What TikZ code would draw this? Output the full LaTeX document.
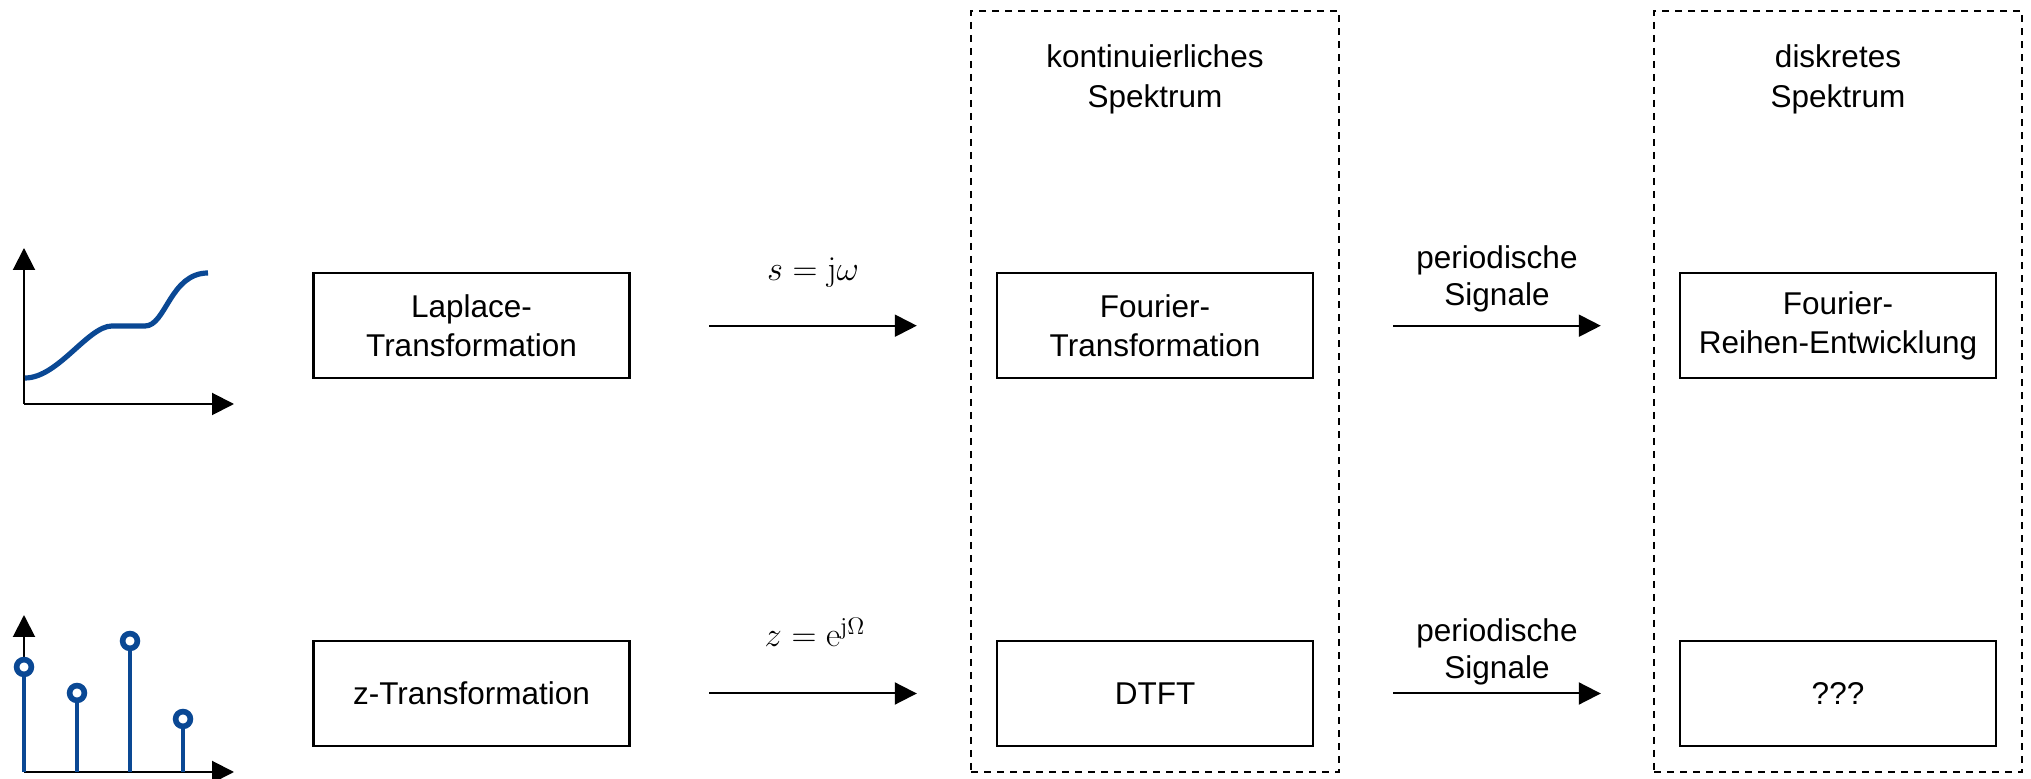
\documentclass[tikz,border=0pt]{standalone}
\usepackage[no-math]{fontspec}
\setmainfont{Liberation Sans}
\usetikzlibrary{arrows.meta}
\definecolor{sigblue}{RGB}{10,72,148}
\begin{document}
\begin{tikzpicture}[x=0.5pt,y=-0.5pt,
  block/.style={draw, line width=1.2pt, minimum width=158pt, minimum height=52.5pt,
    align=center, inner sep=0pt, font=\fontsize{15.75}{19.2}\selectfont},
  region/.style={draw, line width=1pt, dash pattern=on 3.5pt off 3pt,
    minimum width=184pt, minimum height=380.5pt, inner sep=0pt},
  head/.style={align=center, inner sep=0pt, font=\fontsize{15.75}{20}\selectfont},
  lbl/.style={align=center, inner sep=0pt, font=\fontsize{15.75}{18.2}\selectfont},
  mathlbl/.style={anchor=base, inner sep=0pt, font=\fontsize{17.7}{21}\selectfont},
  conn/.style={line width=1pt, -{Triangle[length=11pt,width=11pt]}},
  axis/.style={line width=1pt, -{Triangle[length=11pt,width=11pt]}},
  stem/.style={sigblue, line width=2.1pt},
  tip/.style={sigblue, line width=2.8pt, fill=white},
  curve/.style={sigblue, line width=2.6pt}
]
\useasboundingbox (0,0) rectangle (2031,779);

% dashed regions
\node[region] (contreg) at (1155,391.5) {};
\node[region] (diskreg) at (1838,391.5) {};
\node[head] (conthead) at (1155,79) {kontinuierliches\\Spektrum};
\node[head] (diskhead) at (1838,79) {diskretes\\Spektrum};

% blocks
\node[block] (laplace) at (471.5,325.7) {Laplace-\\Transformation};
\node[block] (fourier) at (1155,325.7) {Fourier-\\Transformation};
\node[block] (reihe) at (1838,325.7) {Fourier-\\Reihen-Entwicklung};
\node[block] (ztrafo) at (471.5,693.5) {z-Transformation};
\node[block] (dtft) at (1155,693.5) {DTFT};
\node[block] (unknown) at (1838,693.5) {???};

% connectors
\draw[conn] ([xshift=39.25pt]laplace.east) -- ([xshift=-39.5pt]fourier.west);
\draw[conn] ([xshift=39.5pt]fourier.east) -- ([xshift=-39pt]reihe.west);
\draw[conn] ([xshift=39.25pt]ztrafo.east) -- ([xshift=-39.5pt]dtft.west);
\draw[conn] ([xshift=39.5pt]dtft.east) -- ([xshift=-39pt]unknown.west);

% labels
\node[mathlbl] (lab1) at (813,281) {$s=\mathrm{j}\omega$};
\node[mathlbl] (lab2) at (815,647) {$z=\mathrm{e}^{\mathrm{j}\Omega}$};
\node[lbl] (lab3) at (1497,279) {periodische\\Signale};
\node[lbl] (lab4) at (1497,651.9) {periodische\\Signale};

% continuous-signal icon
\draw[axis] (24,404) -- (24,248);
\draw[axis] (24,404) -- (234,404);
\draw[curve] (25,378) .. controls (58,378) and (88,326) .. (112,326) -- (145,326)
  .. controls (166,326) and (170,273) .. (208,273);

% discrete-signal icon
\draw[axis] (24,772) -- (24,615);
\draw[axis] (24,772) -- (234,772);
\foreach \sx/\sy in {24/667, 77/693, 130/641, 183/719} {
  \draw[stem] (\sx,772) -- (\sx,\sy);
  \draw[tip] (\sx,\sy) circle (3.7pt);
}
\end{tikzpicture}
\end{document}
